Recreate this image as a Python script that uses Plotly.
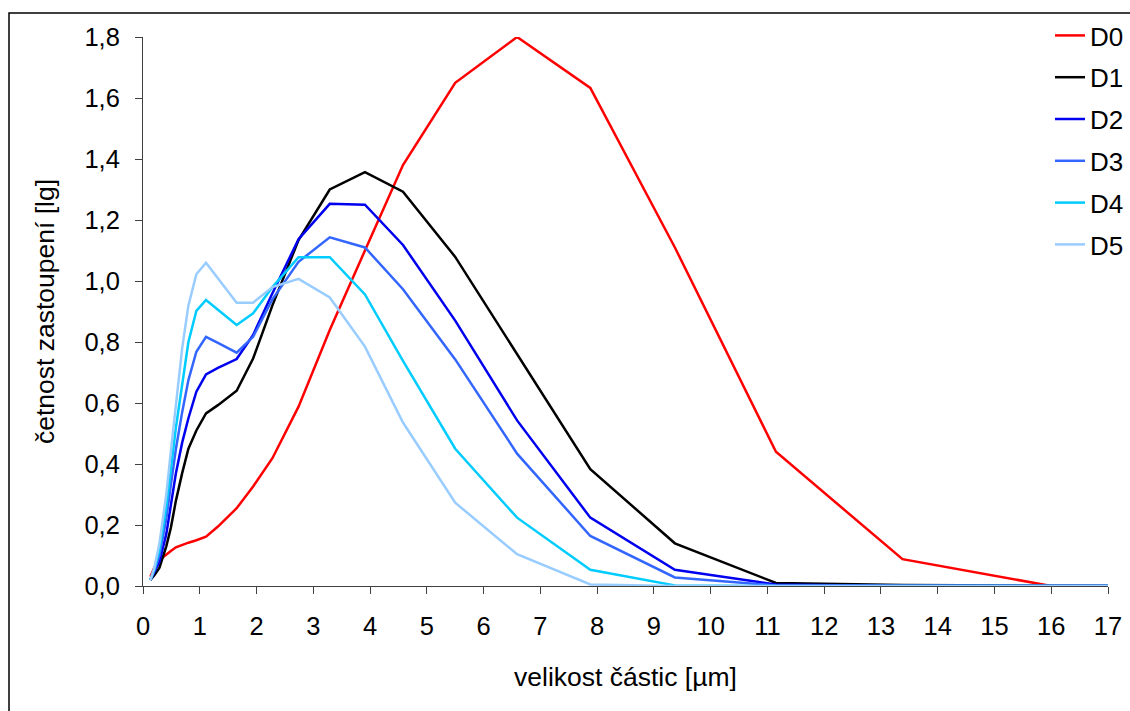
import plotly.graph_objects as go

# particle size [µm]
size_um = [0.13, 0.2, 0.29, 0.41, 0.49, 0.58, 0.69, 0.8, 0.94, 1.11, 1.32, 1.65, 1.94,
           2.28, 2.74, 3.29, 3.91, 4.58, 5.5, 6.59, 7.88, 9.37, 11.15, 13.38, 16.0, 19.0]

D0 = [0.03, 0.06, 0.085, 0.105, 0.115, 0.127, 0.135, 0.142, 0.15, 0.162, 0.195, 0.255, 0.326,
      0.419, 0.588, 0.839, 1.10, 1.38, 1.65, 1.80, 1.633, 1.11, 0.44, 0.088, 0.0, 0.0]
D1 = [0.02, 0.035, 0.06, 0.13, 0.19, 0.28, 0.37, 0.45, 0.51, 0.566, 0.593, 0.64, 0.746,
      0.92, 1.134, 1.30, 1.357, 1.293, 1.079, 0.76, 0.383, 0.14, 0.01, 0.003, 0.0, 0.0]
D2 = [0.02, 0.045, 0.08, 0.17, 0.26, 0.37, 0.47, 0.55, 0.637, 0.694, 0.715, 0.744, 0.823,
      0.96, 1.137, 1.253, 1.25, 1.118, 0.87, 0.543, 0.224, 0.053, 0.005, 0.0, 0.0, 0.0]
D3 = [0.02, 0.05, 0.1, 0.22, 0.33, 0.45, 0.57, 0.675, 0.768, 0.817, 0.797, 0.765, 0.817,
      0.94, 1.063, 1.143, 1.11, 0.973, 0.743, 0.434, 0.164, 0.028, 0.002, 0.0, 0.0, 0.0]
D4 = [0.02, 0.055, 0.12, 0.26, 0.38, 0.52, 0.66, 0.8, 0.902, 0.938, 0.906, 0.856, 0.894,
      0.98, 1.078, 1.078, 0.956, 0.738, 0.45, 0.224, 0.053, 0.002, 0.0, 0.0, 0.0, 0.0]
D5 = [0.02, 0.06, 0.14, 0.3, 0.44, 0.6, 0.78, 0.92, 1.022, 1.06, 1.009, 0.929, 0.929,
      0.98, 1.007, 0.946, 0.785, 0.536, 0.273, 0.104, 0.005, 0.0, 0.0, 0.0, 0.0, 0.0]

series_names = ["D0", "D1", "D2", "D3", "D4", "D5"]
series_values = [D0, D1, D2, D3, D4, D5]
series_colors = ["#FF0000", "#000000", "#0000EE", "#3366FF", "#00CCFF", "#99CCFF"]

x_ticks = list(range(0, 18))
y_ticks = [0.0, 0.2, 0.4, 0.6, 0.8, 1.0, 1.2, 1.4, 1.6, 1.8]

FONT = "Liberation Sans, Arial, sans-serif"

fig = go.Figure()
for name, vals, col in zip(series_names, series_values, series_colors):
    fig.add_trace(go.Scatter(x=size_um, y=vals, mode="lines", name=name,
                             legendgroup=name,
                             line=dict(color=col, width=2.5)))

W, H = 1130, 711
L, R, T, B = 143, 22, 37, 125
pw, ph = W - L - R, H - T - B

def px_x(p):
    return (p - L) / pw

def px_y(p):
    return (H - B - p) / ph

fig.update_layout(
    width=W, height=H,
    margin=dict(l=L, r=R, t=T, b=B, pad=0, autoexpand=False),
    paper_bgcolor="white", plot_bgcolor="white",
    separators=",.",
    font=dict(family=FONT, size=25, color="black"),
    showlegend=True,
    legend=dict(x=px_x(1050), y=px_y(12), xanchor="left", yanchor="top",
                font=dict(family=FONT, size=26, color="black"),
                bgcolor="rgba(0,0,0,0)", tracegroupgap=5.0,
                itemwidth=30),
    xaxis=dict(range=[0, 17], tickvals=x_ticks, ticks="outside", ticklen=7,
               tickcolor="#404040", showline=True, linecolor="#404040", linewidth=1,
               showgrid=False, zeroline=False, tickfont=dict(size=25.5),
               ticklabelstandoff=10,
               title=dict(text="velikost částic [µm]", font=dict(size=26.5), standoff=28)),
    yaxis=dict(range=[0, 1.8], tickvals=y_ticks, tickformat=".1f", ticks="outside",
               ticklen=7, tickcolor="#404040", showline=True, linecolor="#404040",
               linewidth=1, showgrid=False, zeroline=False, tickfont=dict(size=25.5),
               ticklabelstandoff=10,
               title=dict(text="četnost zastoupení [lg]", font=dict(size=26.5), standoff=22)),
    shapes=[dict(type="rect", xref="paper", yref="paper",
                 x0=px_x(9), x1=px_x(1140), y0=px_y(725), y1=px_y(13),
                 line=dict(color="black", width=1.5), fillcolor="rgba(0,0,0,0)",
                 layer="below")],
)

fig.write_html("out.html")
